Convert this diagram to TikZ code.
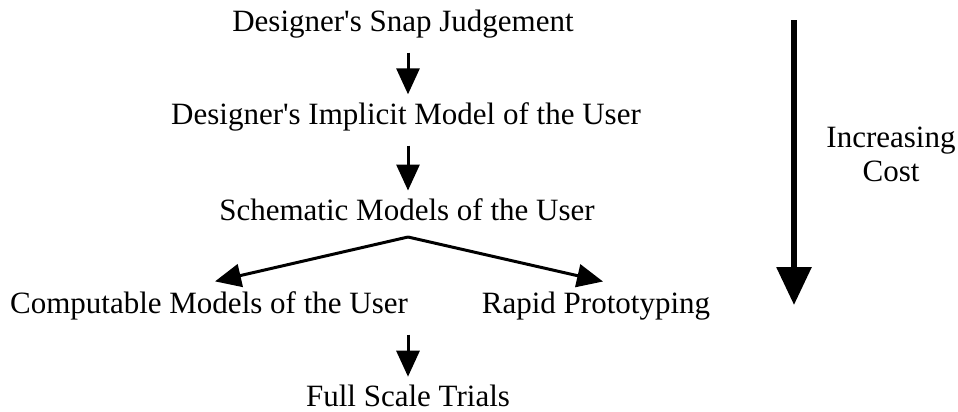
\documentclass[tikz,border=0pt]{standalone}
\usepackage{fontspec}
\setmainfont{Liberation Serif}
\usepackage{tikz}
\usetikzlibrary{positioning,arrows.meta}
\tikzset{
  stagetext/.style={inner sep=0pt, align=center, font=\fontsize{15.5}{17}\selectfont},
  steparrow/.style={-{Triangle[width=11.5pt, length=13pt]}, line width=1.5pt},
  costarrow/.style={-{Triangle[width=17pt, length=19pt]}, line width=3pt}
}

\begin{document}
\begin{tikzpicture}[x=0.5pt, y=-0.5pt]
  \useasboundingbox (0,0) rectangle (958,412);
  \node[stagetext] (snap) at (403,24) {Designer\textquotesingle s Snap Judgement};
  \node[stagetext] (implicit) at (406,117) {Designer\textquotesingle s Implicit Model of the User};
  \node[stagetext] (schematic) at (407,210) {Schematic Models of the User};
  \node[stagetext] (computable) at (209,306) {Computable Models of the User};
  \node[stagetext] (rapid) at (596,306) {Rapid Prototyping};
  \node[stagetext] (trials) at (408,396) {Full Scale Trials};
  \coordinate (fork) at (408,237);
  \draw[steparrow, shorten <=7pt, shorten >=4pt] (snap.south -| fork) -- (implicit.north -| fork);
  \draw[steparrow, shorten <=7pt, shorten >=4pt] (implicit.south -| fork) -- (schematic.north -| fork);
  \draw[steparrow] (fork) -- ([xshift=3pt, yshift=5pt]computable.north);
  \draw[steparrow] (fork) -- ([xshift=3.5pt, yshift=5pt]rapid.north);
  \draw[steparrow, shorten <=7pt, shorten >=4pt] (computable.south -| fork) -- (trials.north -| fork);
  % cost axis
  \node[stagetext] (cost) at (891,154) {Increasing\\Cost};
  \coordinate (costtop) at (794,20);
  \coordinate (costend) at (794,305);
  \draw[costarrow] (costtop) -- (costend);
\end{tikzpicture}
\end{document}
